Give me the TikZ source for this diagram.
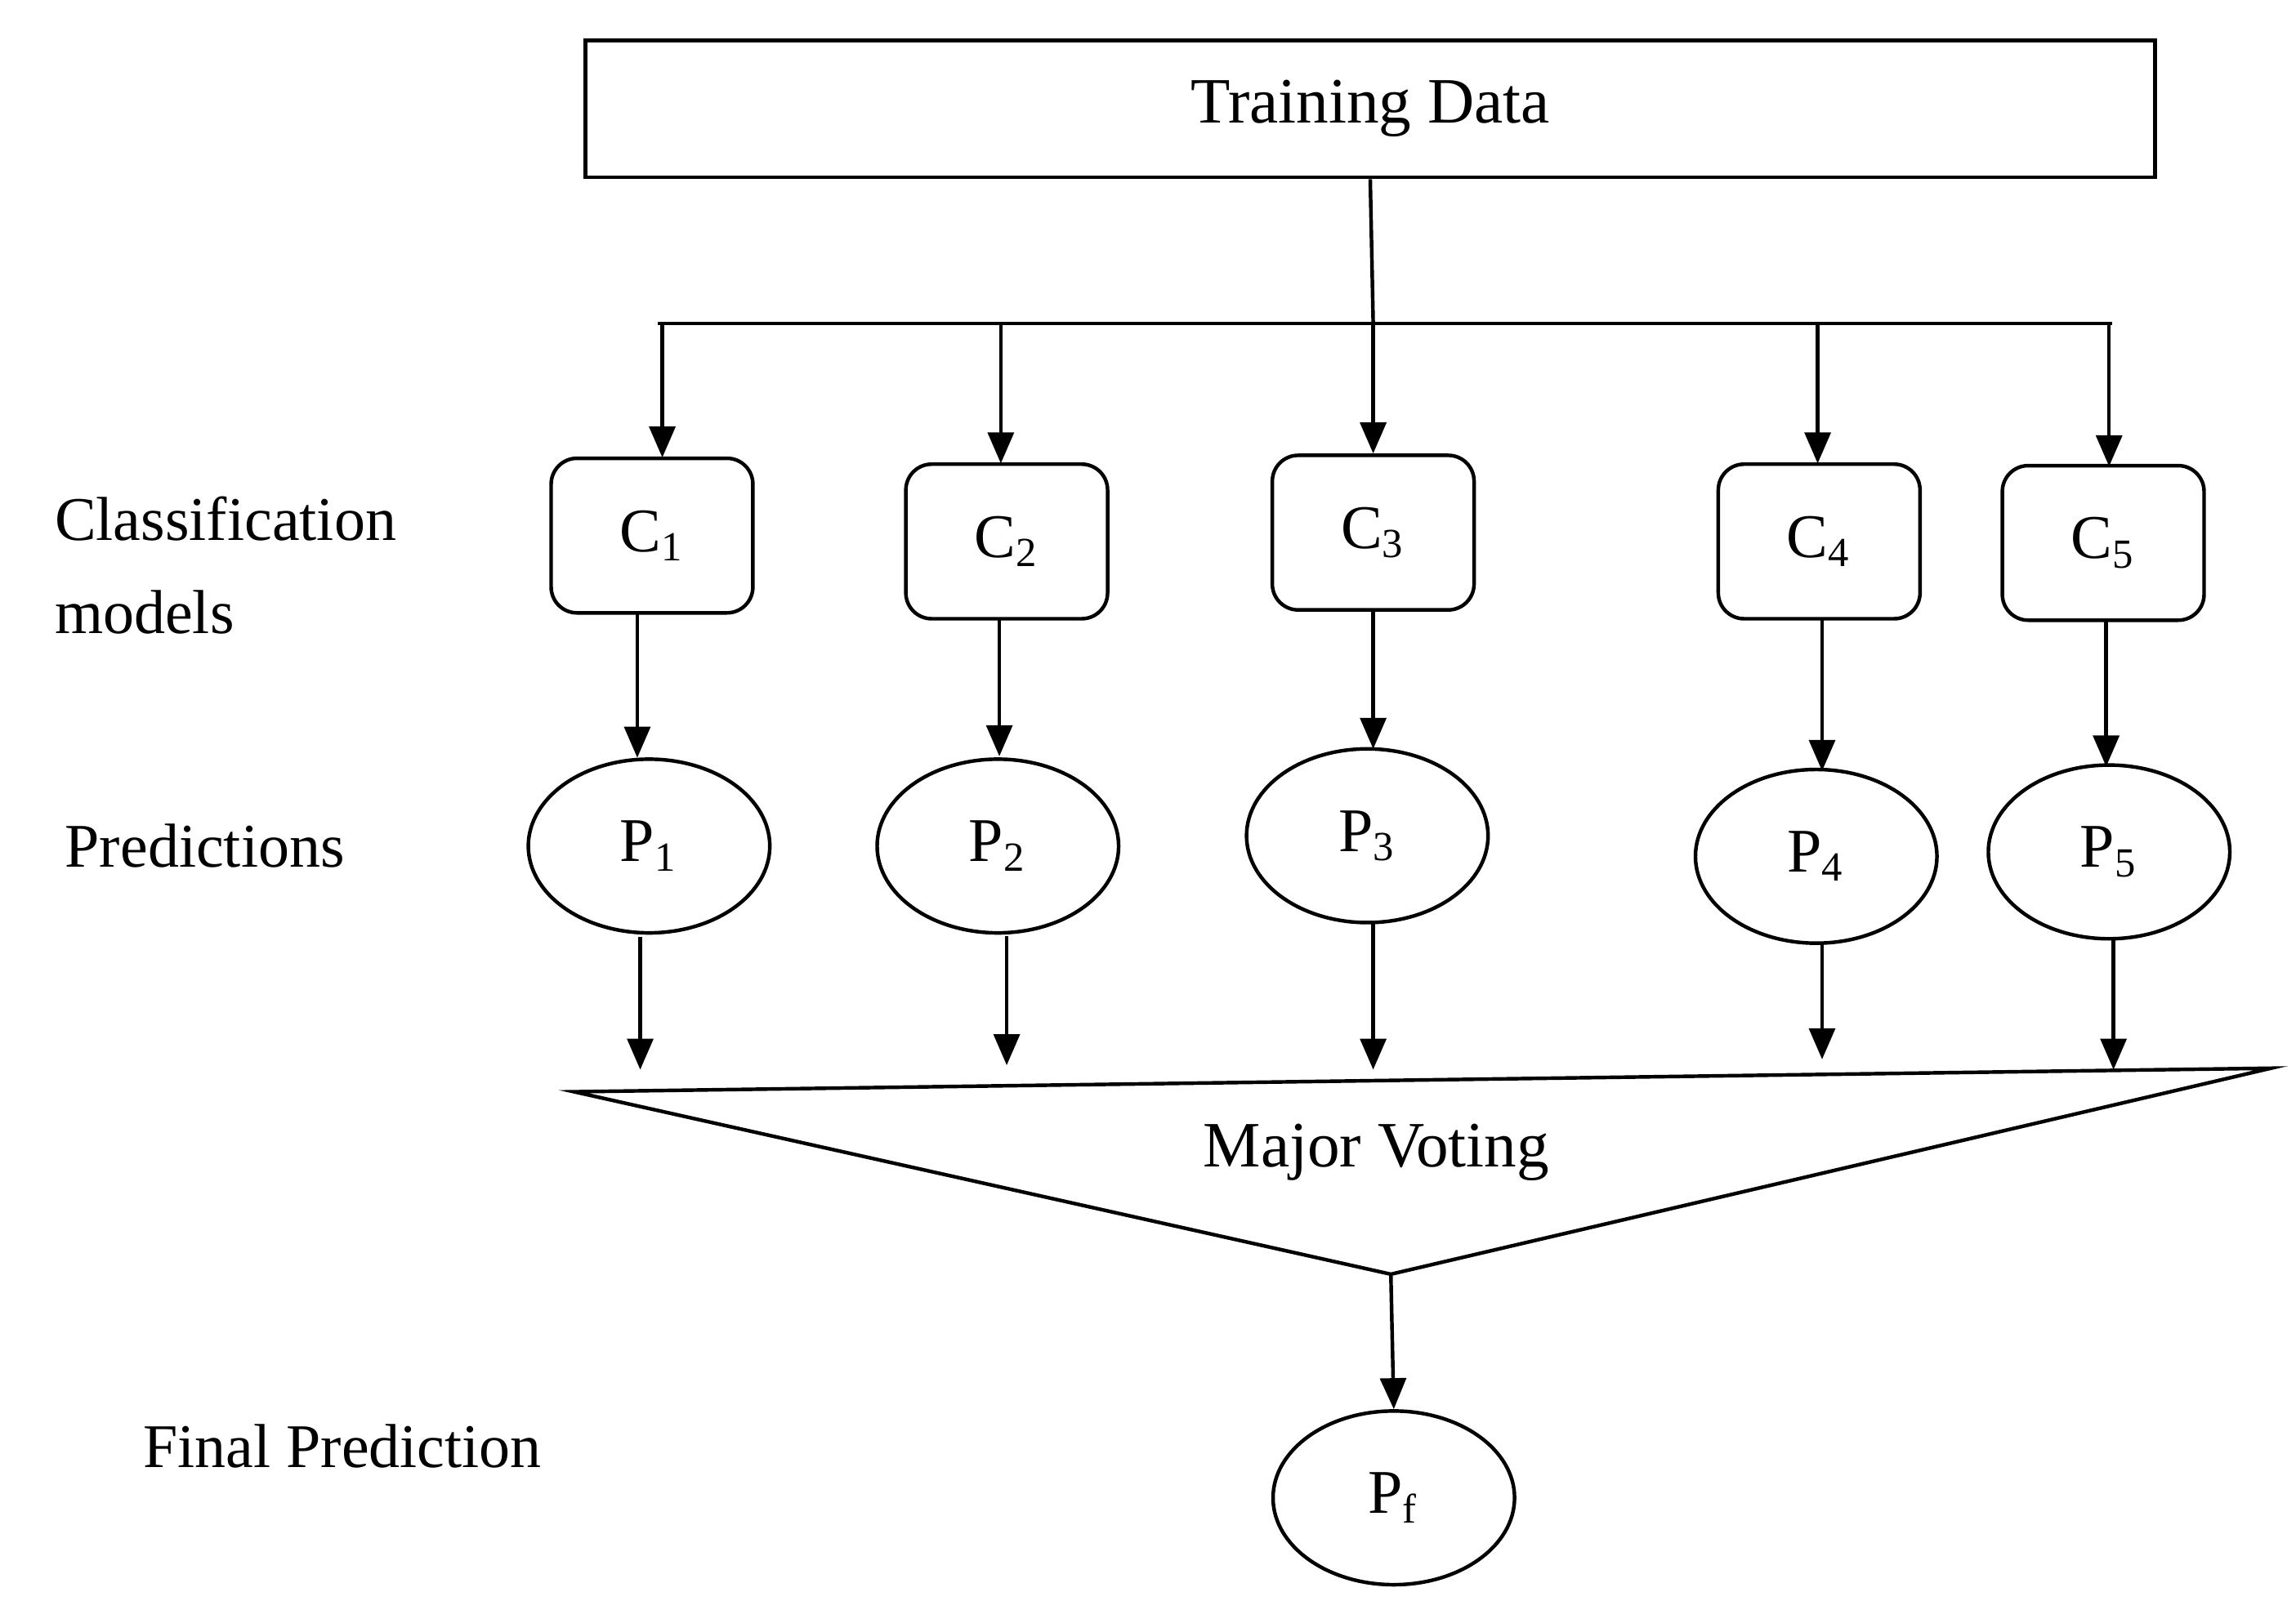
\documentclass[tikz,border=0pt]{standalone}
\usepackage{fontspec}
\setmainfont{Liberation Serif}
\usetikzlibrary{arrows.meta,shapes.geometric}
\begin{document}
\begin{tikzpicture}[x=0.01cm,y=-0.01cm,
  line width=0.7pt,
  arr/.style={-{Triangle[length=6pt,width=5pt]}},
  cbox/.style={draw,rounded corners=5pt,minimum width=1.37cm,minimum height=1.05cm,font=\fontsize{12}{14}\selectfont},
  pell/.style={draw,ellipse,inner sep=0pt,minimum width=1.64cm,minimum height=1.18cm,font=\fontsize{12}{14}\selectfont},
  lab/.style={anchor=west,inner sep=0pt,font=\fontsize{12}{16}\selectfont,align=left}]
\useasboundingbox (0,0) rectangle (1560,1088);
\node[draw,minimum width=10.66cm,minimum height=0.93cm,font=\fontsize{12.5}{15}\selectfont] (td) at (931,74) {Training Data};
\coordinate (j) at (933,220);
\coordinate (hl) at (447,220);
\coordinate (hr) at (1435,220);
\draw (td.south) -- (j);
\draw (hl) -- (hr);
\node[cbox] (c1) at (443,364) {C\textsubscript{1}};
\node[cbox] (c2) at (684,368) {C\textsubscript{2}};
\node[cbox] (c3) at (933,362) {C\textsubscript{3}};
\node[cbox] (c4) at (1236,368) {C\textsubscript{4}};
\node[cbox] (c5) at (1429,369) {C\textsubscript{5}};
\coordinate (t1) at (450,220); \coordinate (t2) at (680,220);
\coordinate (t4) at (1235,220); \coordinate (t5) at (1433,220);
\draw[arr] (t1) -- (450,311);
\draw[arr] (t2) -- (680,315);
\draw[arr] (j) -- (c3.north);
\draw[arr] (t4) -- (1235,315);
\draw[arr] (t5) -- (1433,317);
\node[pell] (p1) at (441,575) {P\textsubscript{1}};
\node[pell] (p2) at (678,575) {P\textsubscript{2}};
\node[pell] (p3) at (929,568) {P\textsubscript{3}};
\node[pell] (p4) at (1234,582) {P\textsubscript{4}};
\node[pell] (p5) at (1433,579) {P\textsubscript{5}};
\draw[arr] (433,417) -- (433,515);
\draw[arr] (679,421) -- (679,514);
\draw[arr] (933,415) -- (933,509);
\draw[arr] (1238,421) -- (1238,524);
\draw[arr] (1431,422) -- (1431,521);
\coordinate (a1) at (435,727); \coordinate (a2) at (684,724);
\coordinate (a3) at (933,727); \coordinate (a4) at (1238,720);
\coordinate (a5) at (1436,727);
\draw[arr] (435,637) -- (a1);
\draw[arr] (684,636) -- (a2);
\draw[arr] (933,626) -- (a3);
\draw[arr] (1238,640) -- (a4);
\draw[arr] (1436,637) -- (a5);
\coordinate (vl) at (390,742); \coordinate (vr) at (1543,726); \coordinate (vb) at (945,866);
\draw (vl) -- (vr) -- (vb) -- cycle;
\node[font=\fontsize{12.5}{15}\selectfont] (mv) at (935,783) {Major Voting};
\node[pell] (pf) at (947,1018) {P\textsubscript{f}};
\draw[arr] (vb) -- (pf.north);
\node[lab] (l1) at (36,384) {Classification\\[2pt]models};
\node[lab] (l2) at (43,575) {Predictions};
\node[lab] (l3) at (96,983) {Final Prediction};
\end{tikzpicture}
\end{document}
